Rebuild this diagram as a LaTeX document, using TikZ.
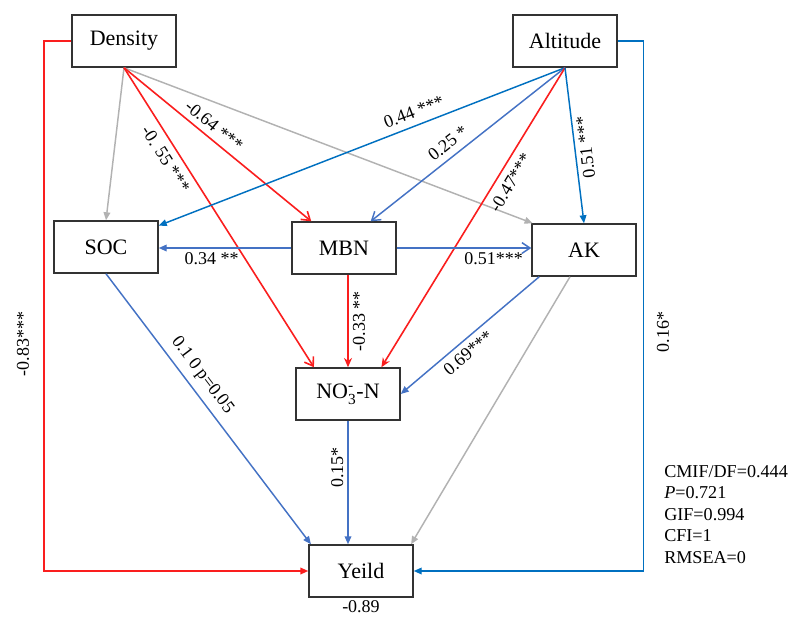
\documentclass[tikz,border=0pt]{standalone}
\usepackage{fontspec}
\setmainfont{Liberation Serif}
\usepackage{amsmath}
\usepackage{tikz}
\usetikzlibrary{positioning, arrows.meta, calc}

\definecolor{semred}{RGB}{250,30,30}
\definecolor{altblue}{RGB}{0,112,192}
\definecolor{semblue}{RGB}{68,114,196}
\definecolor{semgray}{RGB}{178,178,178}

\begin{document}
\begin{tikzpicture}[x=0.75pt, y=-0.75pt,
      var/.style={draw=black!80, line width=1.1pt, minimum width=78pt, minimum height=39pt, inner sep=2pt, font=\fontsize{16.5}{18}\selectfont},
      neg/.style={draw=semred, line width=1.2pt, -{Straight Barb[length=6pt, width=8pt]}},
      altpos/.style={draw=altblue, line width=1.1pt, -{Triangle[length=6pt, width=5pt]}},
      soilpos/.style={draw=semblue, line width=1.1pt, -{Triangle[length=6pt, width=5pt]}},
      ns/.style={draw=semgray, line width=1.1pt, -{Triangle[length=6pt, width=5pt]}},
      lbl/.style={font=\fontsize{13.5}{15}\selectfont, inner sep=3pt},
      stats/.style={font=\fontsize{13.6}{16.1}\selectfont, align=left, inner sep=0pt}]
    \useasboundingbox (0,0) rectangle (790,619);
    % observed variables
    \node[var] (den) at (124,41)  {Density};
    \node[var] (alt) at (565,41)  {Altitude};
    \node[var] (soc) at (106,247) {SOC};
    \node[var] (mbn) at (344,248) {MBN};
    \node[var] (ak)  at (584,250) {AK};
    \node[var] (no3) at (348,394) {NO$_{\text{3}}^{\text{-}}$-N};
    \node[var] (yld) at (361,571) {Yeild};
    % paths from density
    \draw[ns] (den.south) -- (soc.north);
    \draw[ns] (den.south) -- ([xshift=1pt]ak.north west);
    \draw[neg] (den.south) -- node[lbl, sloped, above=1pt, pos=0.44]{-0.64 ***} ([xshift=15pt]mbn.north west);
    \draw[neg] (den.south) -- node[lbl, sloped, below=2pt, pos=0.28]{-0. 55 ***} ([xshift=14pt]no3.north west);
    \draw[neg, -{Triangle[length=6pt, width=5pt]}] (den.west) -- ++(-27,0) |- (yld.west);
    \node[lbl, rotate=90] (l83) at (23,344) {-0.83***};
    % paths from altitude
    \draw[altpos] (alt.south) -- node[lbl, sloped, above=2pt, pos=0.36]{0.44 ***} ([yshift=-4pt]soc.north east);
    \draw[soilpos, -{Straight Barb[length=6pt, width=8pt]}] (alt.south) -- node[lbl, sloped, above=2pt, pos=0.56]{0.25 *} ([xshift=-19.5pt]mbn.north east);
    \draw[neg, -{Stealth[length=7pt, width=6pt]}] (alt.south) -- node[lbl, sloped, below=2pt, pos=0.36]{-0.47***} ([xshift=-14.5pt]no3.north east);
    \draw[altpos] (alt.south) -- node[lbl, rotate=97, anchor=north, pos=0.52]{0.51 ***} (ak.north);
    \draw[altpos] (alt.east) -- ++(26,0) |- (yld.east);
    \node[lbl, rotate=90] (l16) at (663,332) {0.16*};
    % paths between soil variables
    \draw[soilpos] (mbn.west) -- node[lbl, below, pos=0.6]{0.34 **} (mbn.west -| soc.east);
    \draw[soilpos, -{Straight Barb[length=6pt, width=8pt]}] (mbn.east) -- node[lbl, below, pos=0.72]{0.51***} (mbn.east -| ak.west);
    \draw[neg, -{Stealth[length=7pt, width=6pt]}] (no3.north |- mbn.south) -- node[lbl, rotate=90, anchor=north, pos=0.5]{-0.33 **} (no3.north);
    \draw[soilpos] ([xshift=6pt]ak.south west) -- node[lbl, sloped, below=1pt, pos=0.57]{0.69***} (no3.east);
    % paths to yield
    \draw[ns] ([xshift=-10.5pt]ak.south) -- ([xshift=-2pt]yld.north east);
    \draw[soilpos] (soc.south) -- node[lbl, sloped, above=2pt, pos=0.41]{0.1 0 p=0.05} ([xshift=2pt]yld.north west);
    \draw[soilpos] (no3.south) -- node[lbl, rotate=90, anchor=south, pos=0.38]{0.15*} (no3.south |- yld.north);
    \node[lbl] (r2) at (361,607) {-0.89};
    % model fit
    \node[stats, anchor=north west] (fit) at (664,465)
      {CMIF/DF=0.444\\\textit{P}=0.721\\GIF=0.994\\CFI=1\\RMSEA=0};
  \end{tikzpicture}
\end{document}
